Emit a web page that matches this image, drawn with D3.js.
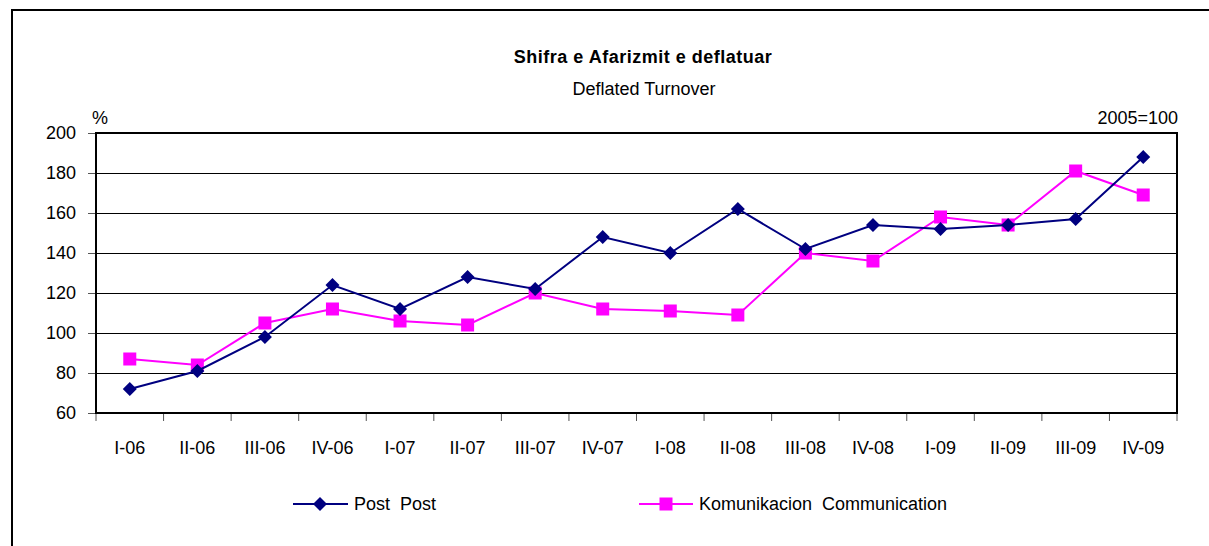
<!DOCTYPE html>
<html>
<head>
<meta charset="utf-8">
<script src="https://cdn.jsdelivr.net/npm/d3@7"></script>
<style>
  body { margin: 0; background: #fff; }
  svg text { font-family: "Liberation Sans", Arial, sans-serif; fill: #000; white-space: pre; }
</style>
</head>
<body>
<div id="container"></div>
<script>
// ******* Chart data *******
var quarters = ["I-06", "II-06", "III-06", "IV-06", "I-07", "II-07", "III-07", "IV-07",
                "I-08", "II-08", "III-08", "IV-08", "I-09", "II-09", "III-09", "IV-09"];
var post = [72, 81, 98, 124, 112, 128, 122, 148, 140, 162, 142, 154, 152, 154, 157, 188];
var komunikacion = [87, 84, 105, 112, 106, 104, 120, 112, 111, 109, 140, 136, 158, 154, 181, 169];
var yTicks = [60, 80, 100, 120, 140, 160, 180, 200];

var width = 1209, height = 546;
var plot = {left: 96, right: 1177, top: 133, bottom: 413};

var svg = d3.select("#container").append("svg")
  .attr("width", width)
  .attr("height", height)

// outer frame (only top and left edges are visible)
svg.append("path")
  .attr("d", "M12,546 L12,10 L1209,10")
  .attr("fill", "none")
  .attr("stroke", "#000")
  .attr("stroke-width", 2)

var x = d3.scaleBand().domain(quarters).range([plot.left, plot.right]);
var y = d3.scaleLinear().domain([60, 200]).range([plot.bottom, plot.top]);

// gridlines
svg.append("g")
  .selectAll("line")
  .data(yTicks.slice(1, -1))
  .enter().append("line")
  .attr("x1", plot.left).attr("x2", plot.right)
  .attr("y1", function(d) { return Math.round(y(d)) + 0.5; })
  .attr("y2", function(d) { return Math.round(y(d)) + 0.5; })
  .attr("stroke", "#000")
  .attr("stroke-width", 1)

// y axis
var yAxis = d3.axisLeft(y).tickValues(yTicks).tickSize(8).tickPadding(12);
var gy = svg.append("g")
  .attr("transform", "translate(" + plot.left + ",0)")
  .call(yAxis);
gy.select(".domain").remove();
gy.selectAll("line").attr("stroke", "#555");
gy.selectAll("text").style("font-size", "18px");

// x axis
var xAxis = d3.axisBottom(x).tickSize(0).tickPadding(28);
var gx = svg.append("g")
  .attr("transform", "translate(0," + plot.bottom + ")")
  .call(xAxis);
gx.select(".domain").remove();
gx.selectAll("text").style("font-size", "18px");

// x tick marks on band boundaries
svg.append("g")
  .selectAll("line")
  .data(quarters.concat(["end"]))
  .enter().append("line")
  .attr("x1", function(d, i) { return plot.left + i * x.step(); })
  .attr("x2", function(d, i) { return plot.left + i * x.step(); })
  .attr("y1", plot.bottom)
  .attr("y2", plot.bottom + 8)
  .attr("stroke", "#555")

// plot border
svg.append("rect")
  .attr("x", plot.left).attr("y", plot.top)
  .attr("width", plot.right - plot.left)
  .attr("height", plot.bottom - plot.top)
  .attr("fill", "none")
  .attr("stroke", "#000")
  .attr("stroke-width", 2)

function cx(d, i) { return x(quarters[i]) + x.bandwidth() / 2; }

var line = d3.line()
  .x(function(d, i) { return cx(d, i); })
  .y(function(d) { return y(d); });

// Komunikacion series
svg.append("path")
  .datum(komunikacion)
  .attr("d", line)
  .attr("fill", "none")
  .attr("stroke", "#ff00ff")
  .attr("stroke-width", 2)

svg.append("g").selectAll("rect")
  .data(komunikacion)
  .enter().append("rect")
  .attr("x", function(d, i) { return cx(d, i) - 6.5; })
  .attr("y", function(d) { return y(d) - 6.5; })
  .attr("width", 13).attr("height", 13)
  .attr("fill", "#ff00ff")

// Post series
svg.append("path")
  .datum(post)
  .attr("d", line)
  .attr("fill", "none")
  .attr("stroke", "#000080")
  .attr("stroke-width", 2)

var diamond = "M0,-7 L7,0 L0,7 L-7,0 Z";
svg.append("g").selectAll("path")
  .data(post)
  .enter().append("path")
  .attr("d", diamond)
  .attr("transform", function(d, i) { return "translate(" + cx(d, i) + "," + y(d) + ")"; })
  .attr("fill", "#000080")

// titles
svg.append("text")
  .attr("x", 643).attr("y", 63)
  .attr("text-anchor", "middle")
  .style("font-size", "18px")
  .style("font-weight", "bold")
  .style("letter-spacing", "0.5px")
  .text("Shifra e Afarizmit e deflatuar");

svg.append("text")
  .attr("x", 644).attr("y", 95)
  .attr("text-anchor", "middle")
  .style("font-size", "18px")
  .text("Deflated Turnover");

svg.append("text")
  .attr("x", 92).attr("y", 124)
  .style("font-size", "18px")
  .text("%");

svg.append("text")
  .attr("x", plot.right + 1).attr("y", 124)
  .attr("text-anchor", "end")
  .style("font-size", "18px")
  .text("2005=100");

// legend
var lg = svg.append("g");
lg.append("line")
  .attr("x1", 293).attr("x2", 348).attr("y1", 504).attr("y2", 504)
  .attr("stroke", "#000080").attr("stroke-width", 2);
lg.append("path")
  .attr("d", diamond)
  .attr("transform", "translate(320,504)")
  .attr("fill", "#000080");
lg.append("text")
  .attr("x", 354).attr("y", 510)
  .style("font-size", "18px")
  .text("Post  Post");

lg.append("line")
  .attr("x1", 639).attr("x2", 693).attr("y1", 504).attr("y2", 504)
  .attr("stroke", "#ff00ff").attr("stroke-width", 2);
lg.append("rect")
  .attr("x", 659.5).attr("y", 497.5).attr("width", 13).attr("height", 13)
  .attr("fill", "#ff00ff");
lg.append("text")
  .attr("x", 699).attr("y", 510)
  .style("font-size", "18px")
  .text("Komunikacion  Communication");
</script>
</body>
</html>
